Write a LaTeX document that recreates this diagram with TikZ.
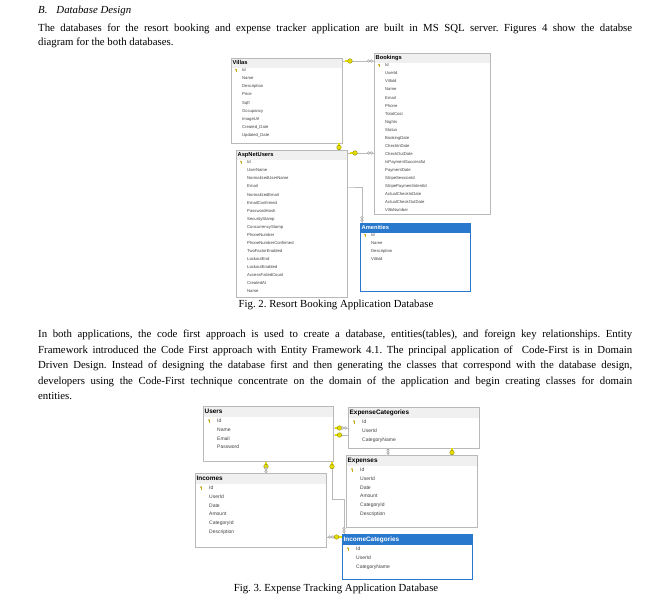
\documentclass[tikz,border=0pt]{standalone}
\usepackage{fontspec}
\setmainfont{Liberation Serif}
\setsansfont{Liberation Sans}
\usepackage{tikz}
\usetikzlibrary{positioning,backgrounds}
\frenchspacing

\definecolor{selblue}{RGB}{40,120,205}
\definecolor{keyyel}{RGB}{230,220,0}
\definecolor{keygold}{RGB}{200,170,30}

\tikzset{
  tbl/.style={draw=gray!55, line width=1pt, fill=white, inner sep=0pt},
  tblsel/.style={draw=selblue, line width=1pt, fill=white, inner sep=0pt},
  hdr/.style={fill=gray!12},
  hdrsel/.style={fill=selblue},
  ttl/.style={inner sep=0pt, font=\sffamily\bfseries\ttlsize},
  ttlsel/.style={ttl, text=white},
  rowtxt/.style={inner sep=0pt, align=left, anchor=north west, text=black!75, font=\sffamily\rowsize},
  rel/.style={draw=gray!55, line width=0.9pt},
  body/.style={inner sep=0pt, anchor=base west, font=\fontsize{10.8}{13}\selectfont},
  capt/.style={inner sep=0pt, anchor=base, font=\fontsize{10.8}{13}\selectfont},
  pkey/.pic={\fill[keygold] (0,-0.8) circle (1); \draw[keygold, line width=0.6pt] (0,-0.8) -- (0,1.5);},
  rkey/.pic={\draw[keyyel, line width=1.3pt] (-5,0) -- (0,0); \fill[keyyel] (0,0) circle (2.3); \draw[keyyel!55!black, line width=0.3pt] (0,0) circle (2.3);},
  rinf/.pic={\draw[gray!65, line width=0.6pt, fill=white] (-1.3,0) circle (1.3) (1.3,0) circle (1.3);}
}

% table: [sel] name x y width height title rows
\newcommand{\dbtable}[8][]{%
  \node[tbl#1, minimum width=#5pt, minimum height=#6pt, anchor=north west] (#2) at (#3,#4) {};
  \fill[hdr#1] ([xshift=1pt,yshift=-1pt]#2.north west) rectangle ([xshift=-1pt,yshift=-\hdh]#2.north east);
  \node[ttl#1, anchor=west] (#2-t) at ([xshift=1.5pt,yshift=-\hdh/2]#2.north west) {#7};
  \node[rowtxt] (#2-r) at ([xshift=\rowx,yshift=-\rowy]#2.north west) {#8};
  \pic at ([xshift=\keyx,yshift=-\keyy]#2.north west) {pkey};
}

\begin{document}
\begin{tikzpicture}[x=1pt, y=-1pt]
\useasboundingbox (0,0) rectangle (670,600);
\begin{pgfonlayer}{background}
\fill[white] (0,0) rectangle (670,600);
\end{pgfonlayer}

% text above
\node[body] (head) at (38,13.5) {\textit{B.\hspace{9pt}Database Design}};
\node[body] (p1a) at (38,31.5) {\makebox[594pt][s]{The databases for the resort booking and expense tracker application are built in MS SQL server. Figures 4 show the databse}};
\node[body] (p1b) at (38,45.5) {diagram for the both databases.};

% resort booking
\def\hdh{9.5pt}\def\rowx{11pt}\def\rowy{10.6pt}\def\keyx{5pt}\def\keyy{12.5pt}
\def\ttlsize{\fontsize{5.7}{6}\selectfont}
\def\rowsize{\fontsize{4.2}{8.05}\selectfont}
\dbtable{villas}{231}{58}{111}{85}{Villas}{Id\\Name\\Description\\Price\\Sqft\\Occupancy\\ImageUrl\\Created\_Date\\Updated\_Date}
\dbtable{bookings}{374}{53}{116}{161}{Bookings}{Id\\UserId\\VillaId\\Name\\Email\\Phone\\TotalCost\\Nights\\Status\\BookingDate\\CheckInDate\\CheckOutDate\\IsPaymentSuccessful\\PaymentDate\\StripeSessionId\\StripePaymentIntentId\\ActualCheckInDate\\ActualCheckOutDate\\VillaNumber}
\dbtable{aspusers}{236}{150}{111}{147}{AspNetUsers}{Id\\UserName\\NormalizedUserName\\Email\\NormalizedEmail\\EmailConfirmed\\PasswordHash\\SecurityStamp\\ConcurrencyStamp\\PhoneNumber\\PhoneNumberConfirmed\\TwoFactorEnabled\\LockoutEnd\\LockoutEnabled\\AccessFailedCount\\CreatedAt\\Name}
\dbtable[sel]{amenities}{360}{223}{110}{68}{Amenities}{Id\\Name\\Description\\VillaId}

\coordinate (vb) at ([yshift=-3pt]villas.north east);
\coordinate (ub) at ([yshift=-3pt]aspusers.north east);
\coordinate (va) at ([xshift=-4pt]villas.south east);
\coordinate (am) at ([xshift=2pt]amenities.north west);
\begin{pgfonlayer}{background}
\draw[rel] (vb) -- (vb -| bookings.west);
\draw[rel] (ub) -- (ub -| bookings.west);
\draw[rel] (va) |- ([yshift=-37pt]aspusers.north east) -| (am);
\end{pgfonlayer}
\pic at ([xshift=7pt]vb) {rkey};
\pic at ([xshift=-4pt]vb -| bookings.west) {rinf};
\pic at ([xshift=7pt]ub) {rkey};
\pic at ([xshift=-4pt]ub -| bookings.west) {rinf};
\pic[rotate=-90] at ([yshift=-3.5pt]va) {rkey};
\pic[rotate=90] at ([yshift=4pt]am) {rinf};

\node[capt] (cap2) at (336,307.5) {Fig. 2. Resort Booking Application Database};

% text between
\node[body] (p2a) at (38,337.5) {\makebox[594pt][s]{In both applications, the code first approach is used to create a database, entities(tables), and foreign key relationships. Entity}};
\node[body] (p2b) at (38,353) {\makebox[594pt][s]{Framework introduced the Code First approach with Entity Framework 4.1. The principal application of \ Code-First is in Domain}};
\node[body] (p2c) at (38,368.5) {\makebox[594pt][s]{Driven Design. Instead of designing the database first and then generating the classes that correspond with the database design,}};
\node[body] (p2d) at (38,384) {\makebox[594pt][s]{developers using the Code-First technique concentrate on the domain of the application and begin creating classes for domain}};
\node[body] (p2e) at (38,399.5) {entities.};

% expense tracking
\def\hdh{11pt}\def\rowx{14pt}\def\rowy{12.7pt}\def\keyx{6pt}\def\keyy{15pt}
\def\ttlsize{\fontsize{6.4}{7}\selectfont}
\def\rowsize{\fontsize{5}{8.75}\selectfont}
\dbtable{users}{203}{406}{130}{55}{Users}{Id\\Name\\Email\\Password}
\dbtable{expcats}{348}{407}{131}{41}{ExpenseCategories}{Id\\UserId\\CategoryName}
\dbtable{expenses}{346}{455}{131}{72}{Expenses}{Id\\UserId\\Date\\Amount\\CategoryId\\Description}
\dbtable{incomes}{195}{473}{131}{74}{Incomes}{Id\\UserId\\Date\\Amount\\CategoryId\\Description}
\dbtable[sel]{inccats}{342}{534}{130}{45}{IncomeCategories}{Id\\UserId\\CategoryName}

\coordinate (uc) at ([yshift=-22pt]users.north east);
\coordinate (ue) at ([yshift=-29pt]users.north east);
\coordinate (en) at ([xshift=42pt]expenses.north west);
\coordinate (ce) at ([xshift=104pt]expcats.south west);
\coordinate (ui) at ([xshift=63pt]users.south west);
\coordinate (uic) at ([xshift=-2pt]users.south east);
\coordinate (icn) at ([xshift=2pt]inccats.north west);
\coordinate (ici) at ([yshift=-3pt]inccats.north west);
\begin{pgfonlayer}{background}
\draw[rel] (uc) -- (uc -| expcats.west);
\draw[rel] (ue) -| (en);
\draw[rel] (ce) -- (ce |- expenses.north);
\draw[rel] (ui) -- (ui |- incomes.north);
\draw[rel] (uic) -- ([yshift=-37pt]uic) -| (icn);
\draw[rel] (ici) -- (ici -| incomes.east);
\end{pgfonlayer}
\pic at ([xshift=5.5pt]uc) {rkey};
\pic at ([xshift=-4pt]uc -| expcats.west) {rinf};
\pic at ([xshift=5.5pt]ue) {rkey};
\pic[rotate=90] at ([yshift=3.5pt]en) {rinf};
\pic[rotate=-90] at ([yshift=-3.5pt]ce) {rkey};
\pic[rotate=-90] at ([yshift=-4.5pt]ui) {rkey};
\pic[rotate=90] at ([yshift=3pt]ui |- incomes.north) {rinf};
\pic[rotate=-90] at ([yshift=-4.5pt]uic) {rkey};
\pic[rotate=90] at ([yshift=4pt]icn) {rinf};
\pic[rotate=180] at ([xshift=-5.5pt]ici) {rkey};
\pic at ([xshift=4pt]ici -| incomes.east) {rinf};

\node[capt] (cap3) at (336,591.5) {Fig. 3. Expense Tracking Application Database};
\end{tikzpicture}
\end{document}
